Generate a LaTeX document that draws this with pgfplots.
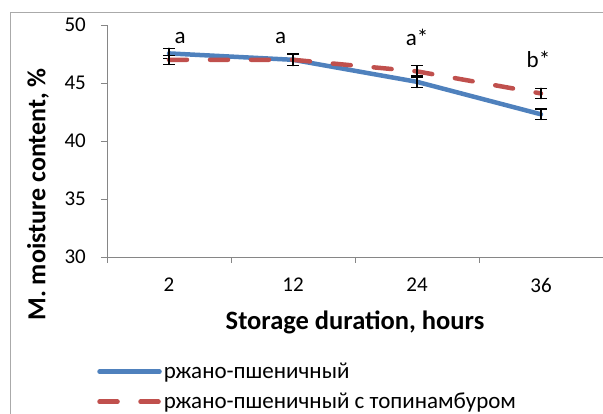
\documentclass[border=0pt]{standalone}
\usepackage{fontspec}
\setmainfont{Carlito}
\usepackage{pgfplots}
\pgfplotsset{compat=1.18}
\definecolor{sblue}{HTML}{4F81BD}
\definecolor{sred}{HTML}{C0504D}
\definecolor{axgray}{HTML}{868686}
\begin{document}
\begin{tikzpicture}[x=1pt,y=1pt]
\useasboundingbox (0,0) rectangle (603,414);
\draw[axgray!70, line width=0.8pt] (10,0) -- (10,402) -- (603,402);
\begin{axis}[
 at={(107pt,157pt)}, anchor=south west,
 scale only axis, width=496pt, height=232pt,
 xmin=-0.5, xmax=3.5, ymin=30, ymax=50,
 axis x line*=bottom, axis y line*=left,
 axis line style={axgray, line width=0.8pt, -},
 xtick={0,1,2,3}, xticklabels={2,12,24,36},
 major x tick style={draw=none},
 minor xtick={-0.5,0.5,1.5,2.5,3.5},
 minor tick length=6pt,
 ytick={30,35,...,50},
 major tick length=6pt,
 tick align=outside,
 tick style={axgray, line width=0.8pt},
 /pgf/number format/assume math mode=true,
 ticklabel style={font=\fontsize{21}{24}\selectfont},
 xticklabel style={anchor=center, yshift=-22pt},
 yticklabel style={anchor=east, inner sep=0pt, xshift=-15pt},
 xlabel={Storage duration, hours},
 ylabel={M. moisture content, \%},
 xlabel style={font=\fontsize{26.5}{30}\selectfont\bfseries, at={(axis description cs:0.5,-0.283)}, anchor=center},
 ylabel style={font=\fontsize{26}{30}\selectfont\bfseries, at={(axis description cs:-0.139,0.27)}, anchor=center},
 clip=false,
 legend cell align=left,
 legend style={at={(axis description cs:-0.02,-0.448)}, anchor=north west, draw=none, fill=none,
   font=\fontsize{23}{26}\selectfont, row sep=9pt, inner sep=0pt,
   /tikz/every even column/.append style={column sep=4pt}},
 legend image code/.code={\draw[#1] (0pt,0pt) -- (60pt,0pt);},
]
\addplot[sblue, line width=4.5pt, line join=round, line cap=round,
  error bars/.cd, y dir=both, y explicit,
  error bar style={black, line width=1.2pt, solid},
  error mark options={rotate=90, black, mark size=6pt, line width=1.2pt, solid}]
 coordinates {(0,47.55) +- (0,0.45) (1,47.0) +- (0,0.5) (2,45.1) +- (0,0.5) (3,42.3) +- (0,0.45)};
\addlegendentry{ржано-пшеничный}
\addplot[sred, line width=4.5pt, line cap=round, dash pattern=on 18pt off 23pt,
  error bars/.cd, y dir=both, y explicit,
  error bar style={black, line width=1.2pt, solid},
  error mark options={rotate=90, black, mark size=6pt, line width=1.2pt, solid}]
 coordinates {(0,47.0) +- (0,0.4) (1,47.0) +- (0,0.5) (2,46.0) +- (0,0.5) (3,44.1) +- (0,0.45)};
\addlegendentry{ржано-пшеничный с топинамбуром}
\node[font=\fontsize{23}{26}\selectfont] at (axis cs:0.09,48.9) {a};
\node[font=\fontsize{23}{26}\selectfont] at (axis cs:0.9,48.9) {a};
\node[font=\fontsize{23}{26}\selectfont] at (axis cs:2.0,48.9) {a*};
\node[font=\fontsize{23}{26}\selectfont] at (axis cs:2.98,47.0) {b*};
\end{axis}
\end{tikzpicture}
\end{document}
